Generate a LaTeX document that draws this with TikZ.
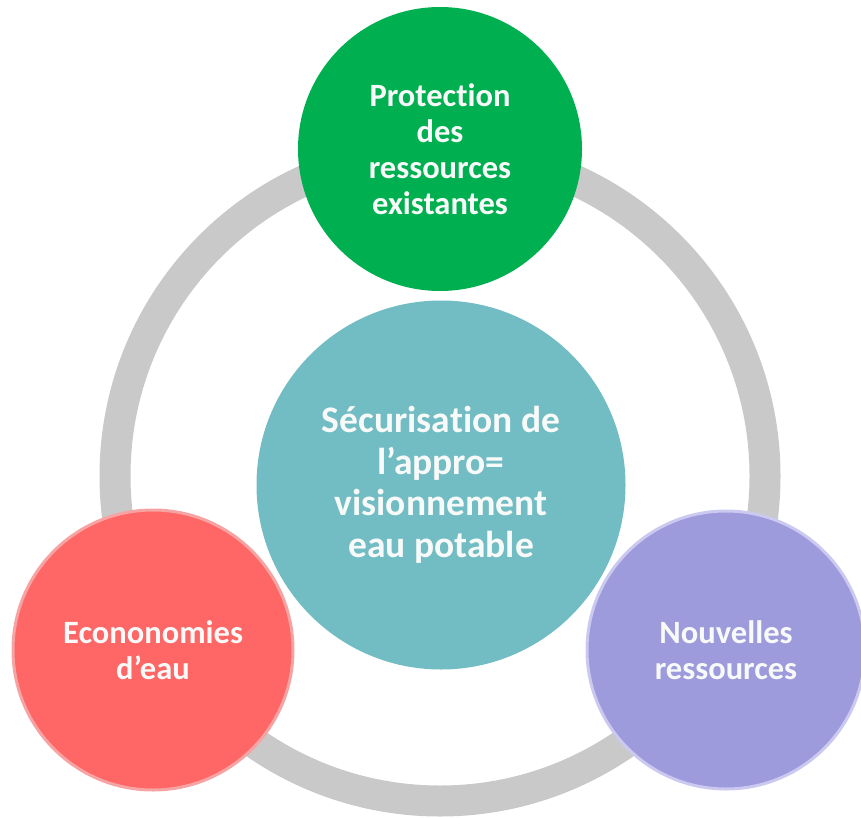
\documentclass[tikz,border=0pt]{standalone}
\usepackage{fontspec}
\setmainfont{Carlito}[Ligatures=NoCommon]
\definecolor{ringgray}{HTML}{C9C9C9}
\definecolor{protgreen}{HTML}{00B050}
\definecolor{coreteal}{HTML}{72BCC3}
\definecolor{ecored}{HTML}{FF6666}
\definecolor{ecoredrim}{HTML}{F6A3A3}
\definecolor{newviolet}{HTML}{9E9BDC}
\definecolor{newvioletrim}{HTML}{CBC9F0}
\definecolor{textwhite}{HTML}{F7FAF8}
\begin{document}
\begin{tikzpicture}[x=1pt,y=-1pt,
  bubble/.style={circle, inner sep=0pt, align=center, text=textwhite,
    font=\fontsize{32.5}{36}\selectfont\bfseries},
  corebubble/.style={bubble, font=\fontsize{37.5}{41.5}\selectfont\bfseries}]
\useasboundingbox (0,0) rectangle (861,818);
% grey cycle ring behind the bubbles
\coordinate (hub) at (440,476);
\draw[ringgray, line width=31pt] (hub) circle[radius=325];
% central goal
\node[corebubble, fill=coreteal, minimum size=369pt] (core) at (441,485)
  {Sécurisation de\\l’appro=\\visionnement\\eau potable};
% three levers on the ring
\node[bubble, fill=protgreen, minimum size=284pt] (prot) at (440,149)
  {Protection\\des\\ressources\\existantes};
\node[bubble, fill=ecored, draw=ecoredrim, line width=3pt, minimum size=280pt] (eco) at (153,650)
  {Econonomies\\d’eau};
\node[bubble, fill=newviolet, draw=newvioletrim, line width=3pt, minimum size=278pt] (new) at (726,650)
  {Nouvelles\\ressources};
\end{tikzpicture}
\end{document}
